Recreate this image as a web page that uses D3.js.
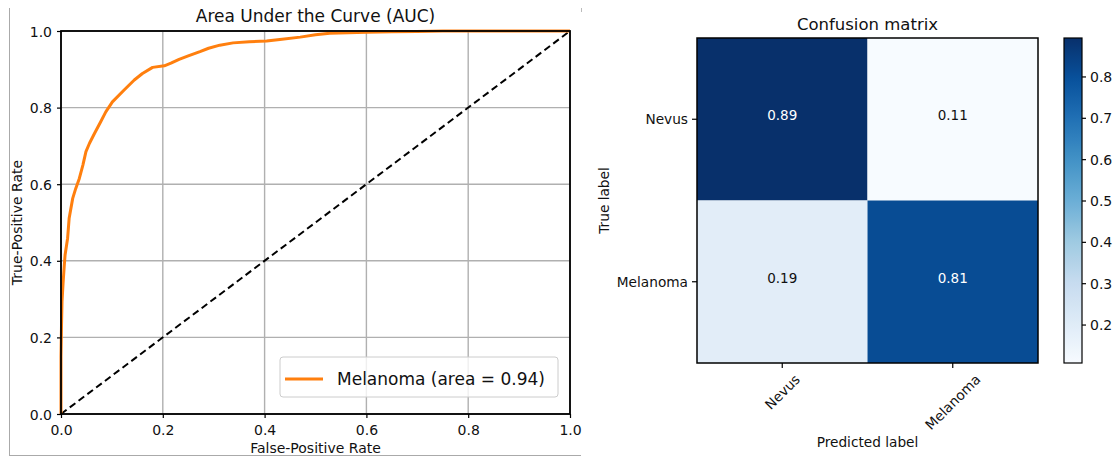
<!DOCTYPE html>
<html><head><meta charset="utf-8">
<script src="https://cdn.jsdelivr.net/npm/d3@7"></script>
<style>body{margin:0;background:#fff}svg{display:block;font-family:"DejaVu Sans",sans-serif}</style>
</head><body><svg id="c" width="1117" height="462"></svg>
<script>
// ROC data
const fpr = [0, 0.000, 0.001, 0.002, 0.004, 0.0065, 0.008, 0.013, 0.016, 0.023, 0.029, 0.036, 0.043, 0.049, 0.056, 0.066, 0.078, 0.088, 0.101, 0.124, 0.144, 0.160, 0.180, 0.203, 0.216, 0.232, 0.25, 0.273, 0.29, 0.312, 0.338, 0.37, 0.404, 0.43, 0.47, 0.5, 0.528, 0.6, 0.65, 0.699, 0.75, 1.0];
const tpr = [0, 0.15, 0.232, 0.293, 0.34, 0.389, 0.415, 0.459, 0.511, 0.563, 0.589, 0.615, 0.650, 0.685, 0.707, 0.733, 0.763, 0.789, 0.815, 0.846, 0.872, 0.889, 0.905, 0.909, 0.916, 0.926, 0.935, 0.946, 0.955, 0.963, 0.969, 0.972, 0.974, 0.978, 0.984, 0.99, 0.994, 0.997, 0.998, 0.999, 1.0, 1.0];
const rocTicks = [0, 0.2, 0.4, 0.6, 0.8, 1.0];
const rocLegend = "Melanoma (area = 0.94)";
// Confusion matrix data
const classes = ["Nevus", "Melanoma"];
const cmValues = [[0.893, 0.107], [0.19, 0.81]];
const cbTicks = [0.2, 0.3, 0.4, 0.5, 0.6, 0.7, 0.8];
const bluesColors = ["#f7fbff","#deebf7","#c6dbef","#9ecae1","#6baed6","#4292c6","#2171b5","#08519c","#08306b"];

const svg = d3.select("#c");

// ---------- outer frame of left panel ----------
svg.append("line").attr("x1",9.5).attr("x2",9.5).attr("y1",8).attr("y2",455.5).attr("stroke","#aaa").attr("stroke-width",1);
svg.append("line").attr("x1",9).attr("x2",581).attr("y1",455.5).attr("y2",455.5).attr("stroke","#aaa").attr("stroke-width",1);
svg.append("line").attr("x1",581.5).attr("x2",581.5).attr("y1",8).attr("y2",12).attr("stroke","#bbb").attr("stroke-width",1);

// ---------- ROC ----------
const L = {x0:61, x1:570, y0:31, y1:414};
const x = d3.scaleLinear().domain([0,1]).range([L.x0, L.x1]);
const y = d3.scaleLinear().domain([0,1]).range([L.y1, L.y0]);
const roc = svg.append("g");
// grid
roc.append("g").selectAll("line.gx").data(rocTicks).join("line")
  .attr("x1",d=>x(d)).attr("x2",d=>x(d)).attr("y1",L.y0).attr("y2",L.y1)
  .attr("stroke","#b0b0b0").attr("stroke-width",1.4);
roc.append("g").selectAll("line.gy").data(rocTicks).join("line")
  .attr("y1",d=>y(d)).attr("y2",d=>y(d)).attr("x1",L.x0).attr("x2",L.x1)
  .attr("stroke","#b0b0b0").attr("stroke-width",1.4);
// diagonal
roc.append("line").attr("x1",x(0)).attr("y1",y(0)).attr("x2",x(1)).attr("y2",y(1))
  .attr("stroke","#000").attr("stroke-width",2).attr("stroke-dasharray","7,4");
// curve
const pts = fpr.map((f,i)=>[f,tpr[i]]);
roc.append("path").datum(pts)
  .attr("d", d3.line().x(d=>x(d[0])).y(d=>y(d[1])))
  .attr("fill","none").attr("stroke","#ff7f0e").attr("stroke-width",3).attr("stroke-linejoin","round");
// axes
const fmt = d3.format(".1f");
const xa = roc.append("g").attr("transform",`translate(0,${L.y1})`)
  .call(d3.axisBottom(x).tickValues(rocTicks).tickFormat(fmt).tickSize(4).tickPadding(7));
const ya = roc.append("g").attr("transform",`translate(${L.x0},0)`)
  .call(d3.axisLeft(y).tickValues(rocTicks).tickFormat(fmt).tickSize(4).tickPadding(5));
[xa,ya].forEach(a=>{
  a.select(".domain").remove();
  a.selectAll("text").attr("font-size",14).attr("fill","#111").attr("font-family","DejaVu Sans");
  a.selectAll("line").attr("stroke","#000").attr("stroke-width",1.2);
});
ya.selectAll("text").attr("dy","0.36em");
// spines
roc.append("rect").attr("x",L.x0).attr("y",L.y0).attr("width",L.x1-L.x0).attr("height",L.y1-L.y0)
  .attr("fill","none").attr("stroke","#000").attr("stroke-width",1.8);
// title and labels
roc.append("text").attr("x",(L.x0+L.x1)/2).attr("y",22).attr("text-anchor","middle")
  .attr("font-size",17).attr("fill","#111").text("Area Under the Curve (AUC)");
roc.append("text").attr("x",(L.x0+L.x1)/2).attr("y",453).attr("text-anchor","middle")
  .attr("font-size",14).attr("fill","#111").text("False-Positive Rate");
roc.append("text").attr("transform",`translate(22,${(L.y0+L.y1)/2}) rotate(-90)`).attr("text-anchor","middle")
  .attr("font-size",14).attr("fill","#111").text("True-Positive Rate");
// legend
const lg = roc.append("g");
lg.append("rect").attr("x",280).attr("y",357).attr("width",278).attr("height",40).attr("rx",3)
  .attr("fill","#fff").attr("fill-opacity",0.8).attr("stroke","#ccc").attr("stroke-width",1);
lg.append("line").attr("x1",285).attr("x2",323).attr("y1",379).attr("y2",379).attr("stroke","#ff7f0e").attr("stroke-width",3);
lg.append("text").attr("x",337).attr("y",385).attr("font-size",17).attr("fill","#111").text(rocLegend);

// ---------- Confusion matrix ----------
const R = {x0:697, x1:1038, y0:38, y1:363};
const vmin = d3.min(cmValues.flat()), vmax = d3.max(cmValues.flat());
const blues = d3.scaleLinear()
  .domain(bluesColors.map((c,i)=>vmin + (vmax-vmin)*i/(bluesColors.length-1)))
  .range(bluesColors).interpolate(d3.interpolateRgb).clamp(true);
const cx = d3.scaleBand().domain(classes).range([R.x0,R.x1]);
const cy = d3.scaleBand().domain(classes).range([R.y0,R.y1]);
const cm = svg.append("g");
const cells = [];
cmValues.forEach((row,i)=>row.forEach((v,j)=>cells.push({r:classes[i],c:classes[j],v})));
cm.selectAll("rect.cell").data(cells).join("rect")
  .attr("x",d=>cx(d.c)).attr("y",d=>cy(d.r)).attr("width",cx.bandwidth()).attr("height",cy.bandwidth())
  .attr("fill",d=>blues(d.v));
cm.selectAll("text.val").data(cells).join("text")
  .attr("x",d=>cx(d.c)+cx.bandwidth()/2).attr("y",d=>cy(d.r)+cy.bandwidth()/2+1)
  .attr("text-anchor","middle").attr("font-size",13.5)
  .attr("fill",d=>d.v > vmax/2 ? "#fff" : "#111")
  .text(d=>d3.format(".2f")(d.v));
cm.append("rect").attr("x",R.x0).attr("y",R.y0).attr("width",R.x1-R.x0).attr("height",R.y1-R.y0)
  .attr("fill","none").attr("stroke","#000").attr("stroke-width",1.5);
// y ticks
const cya = cm.append("g").attr("transform",`translate(${R.x0},0)`)
  .call(d3.axisLeft(cy).tickSize(5).tickPadding(4));
cya.select(".domain").remove();
cya.selectAll("text").attr("font-size",13.7).attr("fill","#111").attr("font-family","DejaVu Sans").attr("dy","0.38em");
cya.selectAll("line").attr("stroke","#000").attr("stroke-width",1.2);
// x ticks, rotated 45 with centered bbox
const cxa = cm.append("g").attr("transform",`translate(0,${R.y1})`)
  .call(d3.axisBottom(cx).tickSize(5).tickFormat(""));
cxa.select(".domain").remove();
cxa.selectAll("line").attr("stroke","#000").attr("stroke-width",1.2);
classes.forEach(c=>{
  const t = cm.append("text").attr("font-size",13.7).attr("fill","#111")
    .attr("text-anchor","middle").attr("dominant-baseline","central").text(c);
  const w = t.node().getComputedTextLength();
  const h = (w + 13.7*1.0)*Math.SQRT1_2;
  const ccx = cx(c)+cx.bandwidth()/2, ccy = R.y1 + 9 + h/2;
  t.attr("x",ccx).attr("y",ccy).attr("transform",`rotate(-45,${ccx},${ccy})`);
});
cm.append("text").attr("x",(R.x0+R.x1)/2).attr("y",30).attr("text-anchor","middle")
  .attr("font-size",16.5).attr("fill","#111").text("Confusion matrix");
cm.append("text").attr("x",(R.x0+R.x1)/2).attr("y",447).attr("text-anchor","middle")
  .attr("font-size",13.7).attr("fill","#111").text("Predicted label");
cm.append("text").attr("transform",`translate(609,${(R.y0+R.y1)/2}) rotate(-90)`).attr("text-anchor","middle")
  .attr("font-size",13.7).attr("fill","#111").text("True label");

// colorbar
const C = {x0:1064, x1:1082, y0:38, y1:363};
const cb = d3.scaleLinear().domain([vmin,vmax]).range([C.y1,C.y0]);
const defs = svg.append("defs");
const grad = defs.append("linearGradient").attr("id","cbg").attr("x1",0).attr("y1",1).attr("x2",0).attr("y2",0);
d3.range(0,1.0001,0.02).forEach(t=>{
  grad.append("stop").attr("offset",t).attr("stop-color",blues(vmin+(vmax-vmin)*t));
});
svg.append("rect").attr("x",C.x0).attr("y",C.y0).attr("width",C.x1-C.x0).attr("height",C.y1-C.y0)
  .attr("fill","url(#cbg)").attr("stroke","#000").attr("stroke-width",1.2);
const cba = svg.append("g").attr("transform",`translate(${C.x1},0)`)
  .call(d3.axisRight(cb).tickValues(cbTicks).tickFormat(fmt).tickSize(4).tickPadding(4));
cba.select(".domain").remove();
cba.selectAll("text").attr("font-size",14).attr("fill","#111").attr("font-family","DejaVu Sans").attr("dy","0.36em");
cba.selectAll("line").attr("stroke","#000").attr("stroke-width",1.2);
</script></body></html>
